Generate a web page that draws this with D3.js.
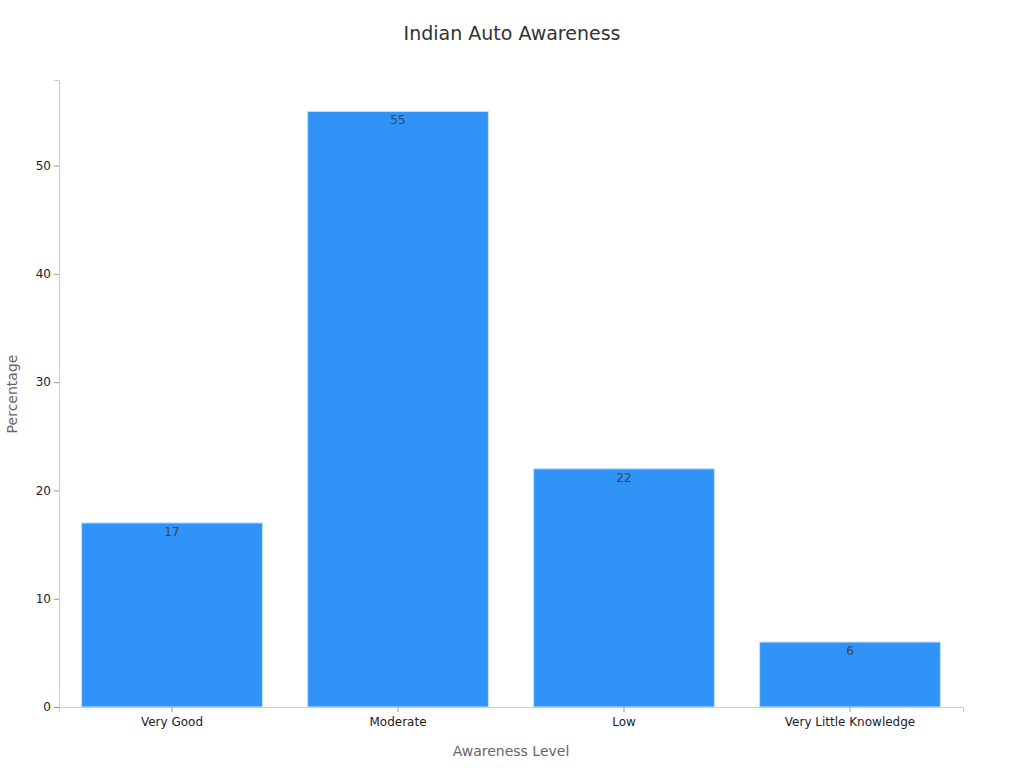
<!DOCTYPE html>
<html><head><meta charset="utf-8">
<script src="https://cdn.jsdelivr.net/npm/d3@7"></script>
<style>body{margin:0;background:#fff;font-family:"DejaVu Sans",sans-serif}</style>
</head><body><svg id="c" width="1024" height="768"></svg>
<script>
const categories=["Very Good","Moderate","Low","Very Little Knowledge"];
const values=[17,55,22,6];
const yTicks=[0,10,20,30,40,50];
const svg=d3.select("#c");
const x=d3.scaleBand().domain(categories).range([59,963]).paddingInner(0.2).paddingOuter(0.1);
const y=d3.scaleLinear().domain([0,57.9]).range([707,80]);
svg.append("text").attr("x",512).attr("y",40).attr("text-anchor","middle").attr("font-size",19).attr("fill","#333").text("Indian Auto Awareness");
svg.selectAll("rect.b").data(values).join("rect").attr("class","b")
 .attr("x",(d,i)=>x(categories[i])).attr("width",x.bandwidth())
 .attr("y",d=>y(d)).attr("height",d=>y(0)-y(d))
 .attr("fill","#2f93f8").attr("stroke","#c9e0fb").attr("stroke-width",1);
svg.selectAll("text.v").data(values).join("text").attr("class","v")
 .attr("x",(d,i)=>x(categories[i])+x.bandwidth()/2).attr("y",d=>y(d)+13)
 .attr("text-anchor","middle").attr("font-size",12).attr("fill","#444").text(d=>d);
const gx=svg.append("g").attr("transform","translate(0,707)").call(d3.axisBottom(x).tickSizeOuter(0).tickSize(5));
gx.select(".domain").attr("stroke","#ccc");
gx.selectAll("line").attr("stroke","#999");
gx.selectAll("text").attr("font-size",12).attr("fill","#222").attr("font-family","DejaVu Sans").attr("dy","0.9em");
const gy=svg.append("g").attr("transform","translate(59,0)").call(d3.axisLeft(y).tickValues(yTicks).tickSizeOuter(0).tickSize(5));
gy.select(".domain").attr("stroke","#ccc");
gy.selectAll("line").attr("stroke","#999");
gy.selectAll("text").attr("font-size",12).attr("fill","#222").attr("font-family","DejaVu Sans");
svg.append("text").attr("x",511).attr("y",756).attr("text-anchor","middle").attr("font-size",14).attr("fill","#666").text("Awareness Level");
svg.append("text").attr("transform","translate(17,394) rotate(-90)").attr("text-anchor","middle").attr("font-size",14).attr("fill","#666").text("Percentage");
</script></body></html>
